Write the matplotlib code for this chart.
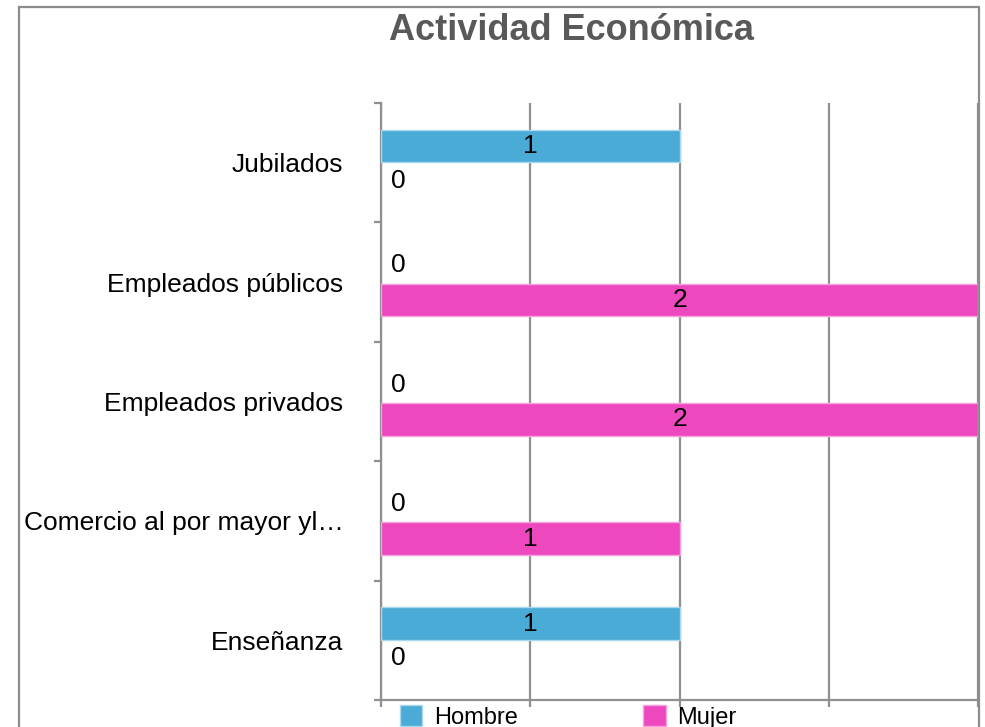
import matplotlib
matplotlib.use('Agg')
import matplotlib.pyplot as plt
from matplotlib.patches import Rectangle, Patch
import numpy as np

plt.rcParams['font.family'] = ['Liberation Sans', 'DejaVu Sans']

categories = ['Jubilados', 'Empleados públicos', 'Empleados privados',
              'Comercio al por mayor yl…', 'Enseñanza']
hombre = [1, 0, 0, 0, 1]
mujer = [0, 2, 2, 1, 0]
series_names = ['Hombre', 'Mujer']
title = 'Actividad Económica'

blue = '#4aabd6'
pink = '#ed48be'
grid_col = '#909090'

W, H = 985, 727
fig = plt.figure(figsize=(W / 100, H / 100), dpi=100)
ax = fig.add_axes([381 / W, 1 - 700 / H, (978 - 381) / W, (700 - 103) / H])

y = np.arange(len(categories))
bh = 0.275

for vals, off, col, edge in [(hombre, -0.14, blue, '#a9d8ee'), (mujer, 0.15, pink, '#f5a3dd')]:
    pos = y + off
    lws = [1 if v else 0 for v in vals]
    ax.barh(pos, vals, height=bh, color=col, edgecolor=edge, linewidth=lws, zorder=3)
    for p, v in zip(pos, vals):
        if v == 0:
            ax.annotate(str(v), (0, p), xytext=(7, 0), textcoords='offset points',
                        ha='left', va='center', fontsize=19, color='black', zorder=4)
        else:
            ax.text(v / 2, p, str(v), ha='center', va='center', fontsize=19,
                    color='black', zorder=4)

ax.set_xlim(0, 2)
ax.set_ylim(len(categories) - 0.5, -0.5)

ax.set_xticks([0, 0.5, 1, 1.5, 2])
ax.set_xticklabels([])
ax.grid(axis='x', color=grid_col, linewidth=1.6, zorder=0)
ax.tick_params(axis='x', length=5, width=1.6, color=grid_col, direction='out')

ax.set_yticks(y)
ax.set_yticklabels(categories, fontsize=19)
ax.set_yticks(np.arange(-0.5, len(categories)), minor=True)
ax.tick_params(axis='y', which='major', length=0, pad=27)
ax.tick_params(axis='y', which='minor', length=5, width=1.6, color=grid_col)

for s in ['top', 'right']:
    ax.spines[s].set_visible(False)
for s in ['left', 'bottom']:
    ax.spines[s].set_color(grid_col)
    ax.spines[s].set_linewidth(1.6)

# outer frame
fig.patches.append(Rectangle((19 / W, -0.1), (979 - 19) / W, 1.1 - 7 / H,
                             transform=fig.transFigure, fill=False,
                             edgecolor='#8c8c8c', linewidth=1.6))

fig.text(571 / W, 1 - 31 / H, title, ha='center', va='center',
         fontsize=26, fontweight='bold', color='#595959')

handles = [Patch(facecolor=blue, edgecolor='#a9d8ee'), Patch(facecolor=pink, edgecolor='#f5a3dd')]
fig.legend(handles, series_names, loc='center left',
           bbox_to_anchor=(400 / W, 1 - 717 / H), ncol=2, frameon=False,
           fontsize=17, handlelength=0.95, handleheight=0.95, handletextpad=0.5,
           columnspacing=5.3, borderpad=0, borderaxespad=0)

fig.savefig('out.png', dpi=100)
